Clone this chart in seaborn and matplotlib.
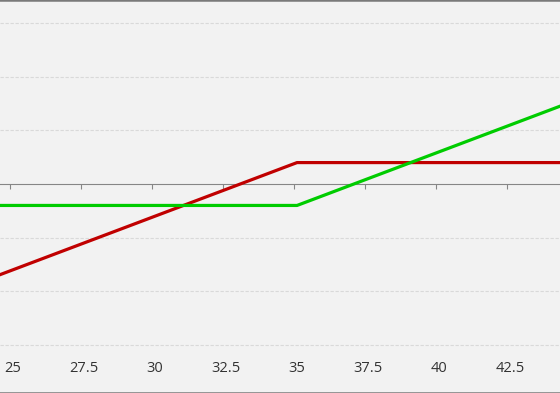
import matplotlib
matplotlib.use("Agg")
import matplotlib.pyplot as plt
import seaborn as sns
import pandas as pd

# Data (piecewise-linear payoff lines)
price = [24.5, 35.0, 44.5]
short_put = [-8.5, 2.0, 2.0]
long_call = [-2.0, -2.0, 7.5]
tick_values = [25, 27.5, 30, 32.5, 35, 37.5, 40, 42.5]
tick_labels = ["25", "27.5", "30", "32.5", "35", "37.5", "40", "42.5"]
y_grid = [-15, -10, -5, 5, 10, 15]

df = pd.DataFrame({
    "price": price * 2,
    "value": short_put + long_call,
    "series": ["Short put"] * len(price) + ["Long call"] * len(price),
})

sns.set_theme(style="white")
plt.rcParams["font.family"] = ["Open Sans", "DejaVu Sans"]

fig = plt.figure(figsize=(5.6, 3.93), dpi=100)
fig.patch.set_facecolor("#f2f2f2")
ax = fig.add_axes([0, 0, 1, 1])
ax.set_facecolor("#f2f2f2")

sns.lineplot(data=df, x="price", y="value", hue="series",
             palette={"Short put": "#c00000", "Long call": "#00cc00"},
             linewidth=2.3, legend=False, ax=ax, zorder=3)

xmin, xmax = 24.54, 44.26
ymin, ymax = -19.5, 17.17
ax.set_xlim(xmin, xmax)
ax.set_ylim(ymin, ymax)
ax.set_xlabel("")
ax.set_ylabel("")

# horizontal dashed grid
ax.set_yticks(y_grid)
ax.set_yticklabels([])
ax.tick_params(axis="y", length=0)
ax.yaxis.grid(True, color="#d9d9d9", linestyle=(0, (3, 1.5)), linewidth=0.8)
ax.xaxis.grid(False)

# x tick labels at the bottom, inside the plot
ax.set_xticks(tick_values)
ax.set_xticklabels(tick_labels)
ax.tick_params(axis="x", length=0, pad=-23, labelsize=10.5, labelcolor="#333333")

# borders
for s in ["left", "right"]:
    ax.spines[s].set_visible(False)
for s in ["top", "bottom"]:
    ax.spines[s].set_visible(True)
    ax.spines[s].set_color("#7a7a7a")
    ax.spines[s].set_linewidth(1.8)

# zero line with tick marks between categories
loc0 = (0 - ymin) / (ymax - ymin)
sec = ax.secondary_xaxis(loc0)
sec.set_xticks([v - 0.11 for v in tick_values])
sec.set_xticklabels([])
sec.tick_params(axis="x", direction="in", length=3.8, width=0.8, color="#868686")
for s in sec.spines.values():
    s.set_color("#868686")
    s.set_linewidth(0.8)

fig.savefig("out.png", dpi=100, facecolor=fig.get_facecolor())
